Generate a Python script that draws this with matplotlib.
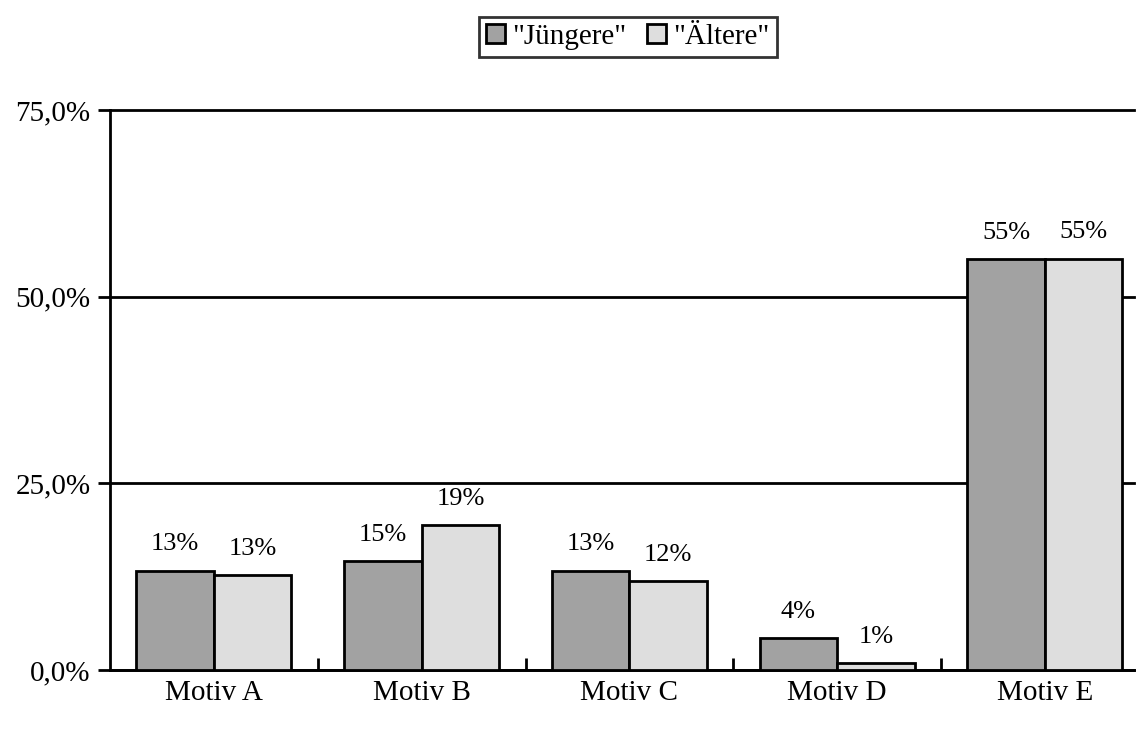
import matplotlib
matplotlib.use("Agg")
import matplotlib.pyplot as plt
import numpy as np
from matplotlib.ticker import FuncFormatter, FixedLocator

categories = ["Motiv A", "Motiv B", "Motiv C", "Motiv D", "Motiv E"]
juengere = [13.3, 14.6, 13.3, 4.3, 55.0]
aeltere = [12.7, 19.4, 11.9, 0.9, 55.1]
series_names = ['"Jüngere"', '"Ältere"']
yticks = [0, 25, 50, 75]

plt.rcParams['font.family'] = ['Liberation Serif', 'DejaVu Serif']

fig = plt.figure(figsize=(11.41, 7.29), dpi=100)
left_px, right_px, cat_px = 110, 1134, 207.75
ax = fig.add_axes([left_px/1141, 1 - 670/729, (right_px-left_px)/1141, (670-110)/729])

x = np.arange(len(categories))
w = 0.373
b1 = ax.bar(x - w/2, juengere, w, color="#a2a2a2", edgecolor="black", linewidth=2,
            label=series_names[0], zorder=3)
b2 = ax.bar(x + w/2, aeltere, w, color="#dedede", edgecolor="black", linewidth=2,
            label=series_names[1], zorder=3)

for bars, vals in ((b1, juengere), (b2, aeltere)):
    for r, v in zip(bars, vals):
        ax.annotate(f"{int(round(v)):d}%", (r.get_x() + r.get_width()/2, v),
                    xytext=(0, 11), textcoords="offset points",
                    ha="center", va="bottom", fontsize=19)

ax.set_xlim(-0.5, -0.5 + (right_px - left_px) / cat_px)
ax.set_ylim(0, 75)
ax.set_yticks(yticks)
ax.yaxis.set_major_formatter(FuncFormatter(lambda v, p: f"{v:.1f}".replace(".", ",") + "%"))
ax.grid(axis="y", color="black", linewidth=2, zorder=0)
for gl in ax.get_ygridlines():
    gl.set_clip_on(False)
ax.set_axisbelow(True)

ax.set_xticks(x)
ax.set_xticklabels(categories, fontsize=21)
ax.tick_params(axis="x", length=0, pad=7)
ax.xaxis.set_minor_locator(FixedLocator(np.arange(0.5, len(categories) - 0.5, 1)))
ax.tick_params(axis="x", which="minor", direction="in", length=9, width=2)
ax.tick_params(axis="y", direction="out", length=9, width=2, labelsize=21, pad=5)

for s in ("top", "right"):
    ax.spines[s].set_visible(False)
for s in ("left", "bottom"):
    ax.spines[s].set_linewidth(2)

leg = fig.legend(handles=[b1, b2], loc="center", bbox_to_anchor=(628/1141, 1 - 37/729),
                 ncol=2, fontsize=21, frameon=True, fancybox=False,
                 handlelength=0.65, handleheight=0.65, handletextpad=0.25,
                 columnspacing=0.7, borderpad=0.25, borderaxespad=0)
leg.get_frame().set_edgecolor("black")
leg.get_frame().set_linewidth(2)

fig.savefig("out.png", dpi=100)
